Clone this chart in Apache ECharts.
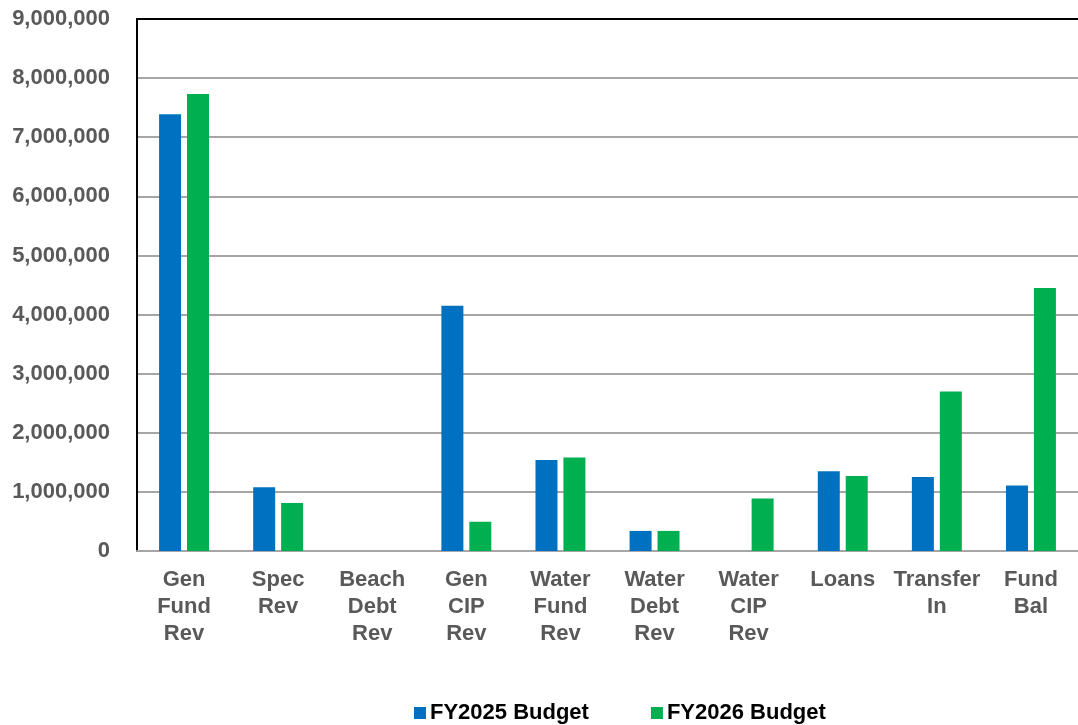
<!DOCTYPE html>
<html>
<head>
<meta charset="utf-8">
<title>FY2025 vs FY2026 Budget by Revenue Source</title>
<script src="https://cdn.jsdelivr.net/npm/echarts@6/dist/echarts.min.js"></script>
<style>
  html, body { margin: 0; padding: 0; background: #ffffff; }
  #chart { width: 1078px; height: 725px; }
</style>
</head>
<body>
<div id="chart"></div>
<script>
// Revenue sources (each word goes on its own line under the axis)
const categories = ['Gen Fund Rev', 'Spec Rev', 'Beach Debt Rev', 'Gen CIP Rev', 'Water Fund Rev',
                    'Water Debt Rev', 'Water CIP Rev', 'Loans', 'Transfer In', 'Fund Bal'];

const seriesNames = ['FY2025 Budget', 'FY2026 Budget'];

const fy2025 = [7390000, 1080000, 0, 4150000, 1540000, 340000, 0, 1350000, 1250000, 1110000];
const fy2026 = [7730000, 810000, 0, 495000, 1580000, 340000, 890000, 1270000, 2700000, 4450000];

const yMin = 0;
const yMax = 9000000;
const yStep = 1000000;

const FONT = '"Liberation Sans", Arial, sans-serif';
const LABEL_GRAY = '#595959';

const chart = echarts.init(document.getElementById('chart'), null, { renderer: 'canvas' });

chart.setOption({
  animation: false,
  backgroundColor: '#ffffff',
  grid: { left: 137, top: 19, right: 0, bottom: 174, containLabel: false },
  legend: {
    data: seriesNames,
    left: 409,
    top: 697,
    itemWidth: 12,
    itemHeight: 12,
    itemGap: 62,
    icon: 'rect',
    textStyle: { fontFamily: FONT, fontWeight: 'bold', fontSize: 22, color: '#000000', padding: [0, 0, 0, -1] }
  },
  xAxis: [
    {
      type: 'category',
      data: categories,
      position: 'bottom',
      axisLine: { show: true, lineStyle: { color: '#A6A6A6', width: 2 } },
      axisTick: { show: false },
      axisLabel: {
        interval: 0,
        margin: 15,
        fontFamily: FONT,
        fontWeight: 'bold',
        fontSize: 22,
        color: LABEL_GRAY,
        lineHeight: 27,
        formatter: function (v) { return v.split(' ').join('\n'); }
      }
    },
    {
      // frame line along the top of the plot
      type: 'category',
      data: categories,
      position: 'top',
      axisLine: { show: true, lineStyle: { color: '#000000', width: 2 } },
      axisTick: { show: false },
      axisLabel: { show: false },
      splitLine: { show: false }
    }
  ],
  yAxis: {
    type: 'value',
    min: yMin,
    max: yMax,
    interval: yStep,
    axisLine: { show: true, lineStyle: { color: '#000000', width: 2 } },
    axisTick: { show: false },
    splitLine: { show: true, lineStyle: { color: '#A6A6A6', width: 2 } },
    axisLabel: {
      margin: 27,
      fontFamily: FONT,
      fontWeight: 'bold',
      fontSize: 22,
      color: LABEL_GRAY,
      formatter: function (v) { return v.toLocaleString('en-US'); }
    }
  },
  series: [
    {
      name: seriesNames[0],
      type: 'bar',
      data: fy2025,
      barWidth: 22,
      barGap: '27%',
      itemStyle: { color: '#0070C0' }
    },
    {
      name: seriesNames[1],
      type: 'bar',
      data: fy2026,
      barWidth: 22,
      itemStyle: { color: '#00B050' }
    }
  ]
});
</script>
</body>
</html>
